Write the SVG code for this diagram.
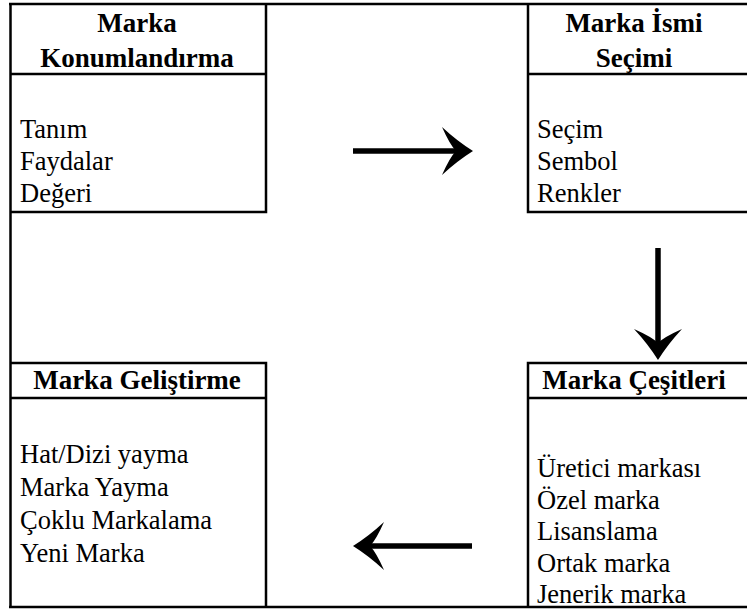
<svg xmlns="http://www.w3.org/2000/svg" width="747" height="612" viewBox="0 0 747 612">
<style>
.ln{stroke:#000;stroke-width:2.5;fill:none}
.h{font-family:'Liberation Serif','DejaVu Serif','Times New Roman',serif;font-size:27px;font-weight:bold;fill:#000;text-anchor:middle}
.t{font-family:'Liberation Serif','DejaVu Serif','Times New Roman',serif;font-size:26.5px;fill:#000}
.ar{stroke:#000;stroke-width:5.5;fill:none}
</style>
<defs>
<marker id="head" markerUnits="userSpaceOnUse" viewBox="-34 -26 36 52" refX="-17" refY="0" markerWidth="36" markerHeight="52" orient="auto" overflow="visible">
<path d="M0,0 Q-16,-10 -31,-24 Q-23,-6 -17,0 Q-23,6 -31,24 Q-16,10 0,0 Z" fill="#000"/>
</marker>
</defs>
<rect width="747" height="612" fill="#fff"/>
<g id="frame">
<path class="ln" d="M10.5,3 V608 M9,4 H747 M9,607 H747"/>
</g>
<g id="node1">
<path class="ln" d="M266,4 V212 H10 M10,74 H266"/>
<text class="h" x="137" y="32">Marka</text>
<text class="h" x="137" y="67">Konumlandırma</text>
<text class="t" x="20" y="138">Tanım</text>
<text class="t" x="20" y="170">Faydalar</text>
<text class="t" x="20" y="202">Değeri</text>
</g>
<g id="node2">
<path class="ln" d="M528,4 V212 H747 M528,74 H747"/>
<text class="h" x="634" y="32">Marka İsmi</text>
<text class="h" x="634" y="67">Seçimi</text>
<text class="t" x="537" y="138">Seçim</text>
<text class="t" x="537" y="170">Sembol</text>
<text class="t" x="537" y="202">Renkler</text>
</g>
<g id="node3">
<path class="ln" d="M528,607 V363 H747 M528,398 H747"/>
<text class="h" x="634" y="389">Marka Çeşitleri</text>
<text class="t" x="537" y="477">Üretici markası</text>
<text class="t" x="537" y="508.5">Özel marka</text>
<text class="t" x="537" y="540">Lisanslama</text>
<text class="t" x="537" y="571.5">Ortak marka</text>
<text class="t" x="537" y="603">Jenerik marka</text>
</g>
<g id="node4">
<path class="ln" d="M10,363 H266 V607 M10,398 H266"/>
<text class="h" x="137" y="389">Marka Geliştirme</text>
<text class="t" x="20" y="463">Hat/Dizi yayma</text>
<text class="t" x="20" y="496">Marka Yayma</text>
<text class="t" x="20" y="529">Çoklu Markalama</text>
<text class="t" x="20" y="562">Yeni Marka</text>
</g>
<g id="connectors">
<line class="ar" x1="353" y1="151" x2="456" y2="151" marker-end="url(#head)"/>
<line class="ar" x1="658" y1="248" x2="658" y2="343" marker-end="url(#head)"/>
<line class="ar" x1="472" y1="546" x2="370" y2="546" marker-end="url(#head)"/>
</g>
</svg>
